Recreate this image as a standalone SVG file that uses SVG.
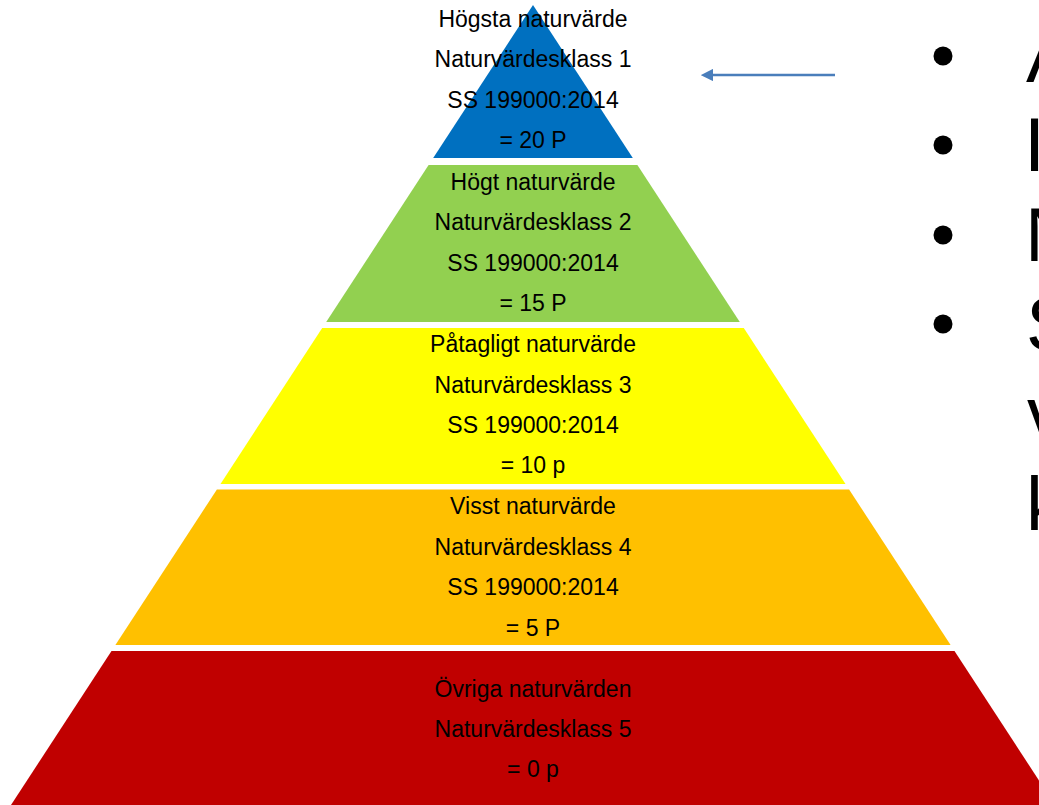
<svg xmlns="http://www.w3.org/2000/svg" width="1039" height="805" viewBox="0 0 1039 805">
<style>
.lbl{font-family:"Liberation Sans",Arial,sans-serif;font-size:23px;fill:#000;text-anchor:middle}
.big{font-family:"Liberation Sans",Arial,sans-serif;font-size:76px;fill:#000}
</style>
<defs>
<marker id="ah" viewBox="0 0 10 10" refX="1" refY="5" markerWidth="5" markerHeight="5" orient="auto-start-reverse" markerUnits="strokeWidth">
<path d="M0,0 L10,5 L0,10 z" fill="#4A7EBB"/>
</marker>
</defs>
<rect width="1039" height="805" fill="#fff"/>
<g id="level1">
<polygon points="533,5 632.8,158 433.2,158" fill="#0070C0"/>
<text class="lbl" x="533" y="27">Högsta naturvärde</text>
<text class="lbl" x="533" y="67">Naturvärdesklass 1</text>
<text class="lbl" x="533" y="108">SS 199000:2014</text>
<text class="lbl" x="533" y="148">= 20 P</text>
</g>
<g id="level2">
<polygon points="428.6,165 637.4,165 739.8,322 326.2,322" fill="#92D050"/>
<text class="lbl" x="533" y="190">Högt naturvärde</text>
<text class="lbl" x="533" y="230">Naturvärdesklass 2</text>
<text class="lbl" x="533" y="271">SS 199000:2014</text>
<text class="lbl" x="533" y="311">= 15 P</text>
</g>
<g id="level3">
<polygon points="322.2,328 743.8,328 845.5,484 220.5,484" fill="#FFFF00"/>
<text class="lbl" x="533" y="352">Påtagligt naturvärde</text>
<text class="lbl" x="533" y="393">Naturvärdesklass 3</text>
<text class="lbl" x="533" y="433">SS 199000:2014</text>
<text class="lbl" x="533" y="473">= 10 p</text>
</g>
<g id="level4">
<polygon points="216.9,489.5 849.1,489.5 950.6,645 115.4,645" fill="#FFC000"/>
<text class="lbl" x="533" y="514">Visst naturvärde</text>
<text class="lbl" x="533" y="555">Naturvärdesklass 4</text>
<text class="lbl" x="533" y="595">SS 199000:2014</text>
<text class="lbl" x="533" y="636">= 5 P</text>
</g>
<g id="level5">
<polygon points="111.5,651 954.5,651 1055,805 11,805" fill="#C00000"/>
<text class="lbl" x="533" y="697">Övriga naturvärden</text>
<text class="lbl" x="533" y="737">Naturvärdesklass 5</text>
<text class="lbl" x="533" y="777">= 0 p</text>
</g>
<g id="connectors">
<line x1="835" y1="75" x2="712" y2="75" stroke="#4A7EBB" stroke-width="2.5" marker-end="url(#ah)"/>
</g>
<g id="bullets">
<circle cx="943" cy="56" r="9.5" fill="#000"/>
<circle cx="943" cy="145" r="9.5" fill="#000"/>
<circle cx="943" cy="235" r="9.5" fill="#000"/>
<circle cx="943" cy="324" r="9.5" fill="#000"/>
<text class="big" x="1026" y="82">A</text>
<text class="big" x="1024" y="171">I</text>
<text class="big" x="1025" y="261">N</text>
<text class="big" x="1026" y="350">S</text>
<text class="big" x="1027" y="440">v</text>
<text class="big" x="1026" y="530">k</text>
</g>
</svg>
